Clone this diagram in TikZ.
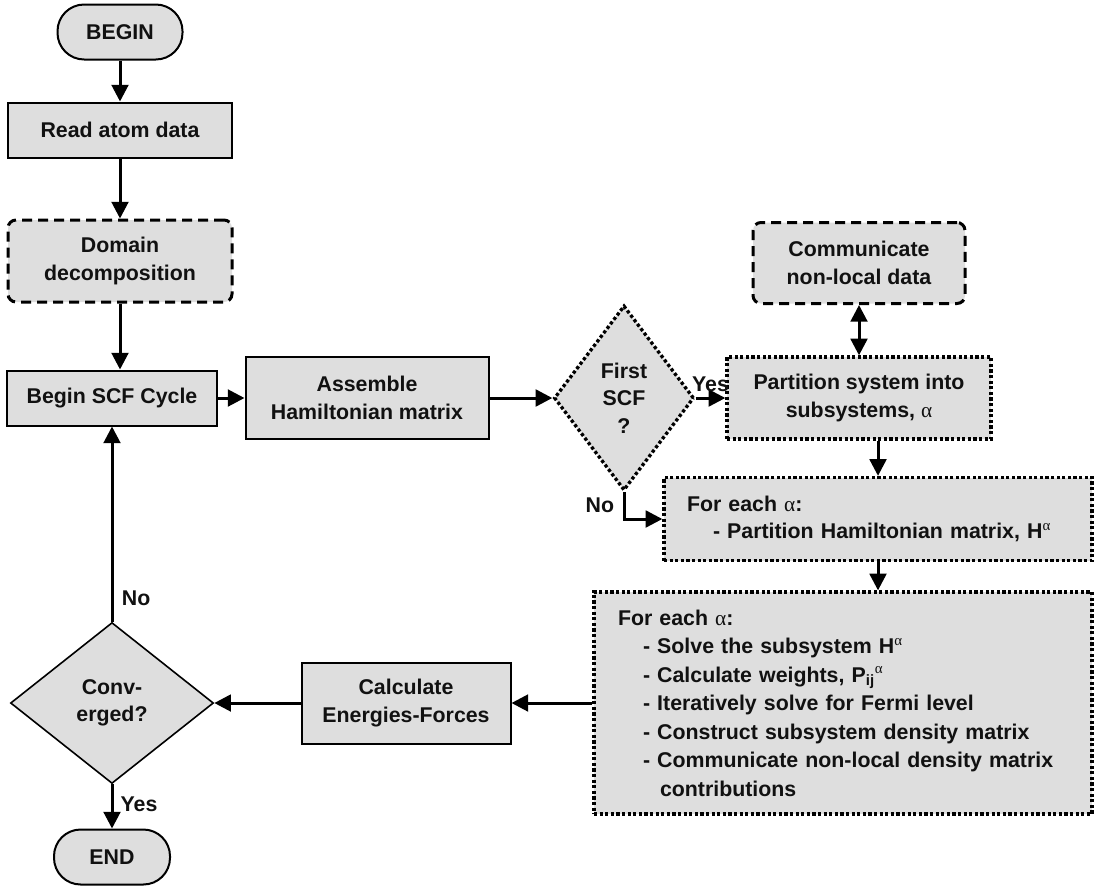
\documentclass[tikz,border=0pt]{standalone}
\usepackage{fontspec}
\setmainfont{Liberation Sans}
\newfontfamily\greekfont{Liberation Serif}
\usetikzlibrary{arrows.meta,shapes.geometric}
\definecolor{boxgray}{RGB}{222,222,222}
\definecolor{inkblack}{RGB}{17,17,17}
\newcommand{\al}{{\greekfont\mdseries α}}

\begin{document}
\begin{tikzpicture}[node distance=73.5pt, thick, >={Triangle[width=12.5pt,length=12.5pt]},
    font=\fontsize{16}{20.5}\selectfont\bfseries, text=inkblack]
    \tikzstyle{term} = [rectangle, draw, line width=1.5pt, fill=boxgray, rounded corners=20pt, minimum width=93.75pt, minimum height=41.25pt]
    \tikzstyle{block} = [rectangle, draw, line width=1.5pt, fill=boxgray, align=center, minimum height=41.25pt]
    \tikzstyle{dashbox} = [block, line width=2.25pt, dash pattern=on 7.5pt off 4.5pt, rounded corners=6pt]
    \tikzstyle{dotbox} = [block, line width=2.5pt, dash pattern=on 2.4pt off 1.8pt]
    \tikzstyle{decision} = [diamond, draw, fill=boxgray, align=center, inner sep=0pt, line width=1.2pt]
    \tikzstyle{line} = [draw, line width=2.25pt, ->]

    \useasboundingbox (0,0) rectangle (820.5pt,-664.5pt);

    \node [term] at (90pt,-24pt) (begin) {BEGIN};
    \node [block, below of=begin, minimum width=168pt] (read) {Read atom data};
    \node [dashbox, below of=read, node distance=98.25pt, minimum width=168pt, minimum height=61.5pt] (dom) {Domain\\decomposition};
    \node [block, below of=dom, node distance=102.75pt, xshift=-6pt, minimum width=157.5pt] (scf) {Begin SCF Cycle};
    \node [block, right of=scf, node distance=191.25pt, minimum width=182.25pt, minimum height=61.5pt] (asm) {Assemble\\Hamiltonian matrix};
    \node [decision, dash pattern=on 2.4pt off 1.8pt, line width=2.5pt, right of=asm, node distance=192.75pt, minimum width=105pt, minimum height=138.75pt] (first) {First\\SCF\\?};
    \node [dotbox, right of=first, node distance=176.25pt, minimum width=198pt, minimum height=61.5pt] (part) {Partition system into\\subsystems, \al};
    \node [dashbox, above of=part, node distance=101.25pt, minimum width=159pt, minimum height=60.75pt] (comm) {Communicate\\non-local data};
    \node [dotbox, below of=part, node distance=90.75pt, xshift=14.25pt, minimum width=321pt, minimum height=62.25pt, text width=286.5pt, align=left] (each)
        {For each \al:\\\hspace*{19.5pt}- Partition Hamiltonian matrix, H\textsuperscript{\al}};
    \node [dotbox, below of=each, node distance=138pt, xshift=-26.25pt, minimum width=373.5pt, minimum height=166.5pt, text width=337.5pt, align=left,
        font=\fontsize{16}{21.4}\selectfont\bfseries] (big)
        {For each \al:\\
        \hspace*{18.75pt}- Solve the subsystem H\textsuperscript{\al}\\
        \hspace*{18.75pt}- Calculate weights, P\textsubscript{ij}\textsuperscript{\al}\\
        \hspace*{18.75pt}- Iteratively solve for Fermi level\\
        \hspace*{18.75pt}- Construct subsystem density matrix\\
        \hspace*{18.75pt}- Communicate non-local density matrix\\
        \hspace*{31.5pt}contributions};
    \node [block, left of=big, node distance=327.75pt, minimum width=156.75pt, minimum height=60.75pt] (calc) {Calculate\\Energies-Forces};
    \node [decision, left of=calc, node distance=220.5pt, minimum width=152.25pt, minimum height=120.75pt] (conv) {Conv-\\erged?};
    \node [term, below of=conv, node distance=115.5pt, minimum width=87pt] (endn) {END};

    \path [line] (begin) -- (read);
    \path [line] (read) -- (dom);
    \path [line] (dom.south) -- (dom.south |- scf.north);
    \path [line] (scf) -- (asm);
    \path [line] (asm) -- (first);
    \path [line] (first.east) -- node [above=0pt] {Yes} (part.west);
    \path [line, <->] (comm.south) -- (comm.south |- part.north);
    \path [line] (part.south -| each.north) -- (each.north);
    \path [line] (first.south) |- node [pos=0.25, left=3pt] {No} (each.west);
    \path [line] (each.south) -- (each.south |- big.north);
    \path [line] (big.west) -- (calc.east);
    \path [line] (calc) -- (conv);
    \path [line] (conv.north) -- node [pos=0.12, right=3pt] {No} (scf.south);
    \path [line] (conv.south) -- node [pos=0.45, right=2pt] {Yes} (endn.north);
\end{tikzpicture}
\end{document}
